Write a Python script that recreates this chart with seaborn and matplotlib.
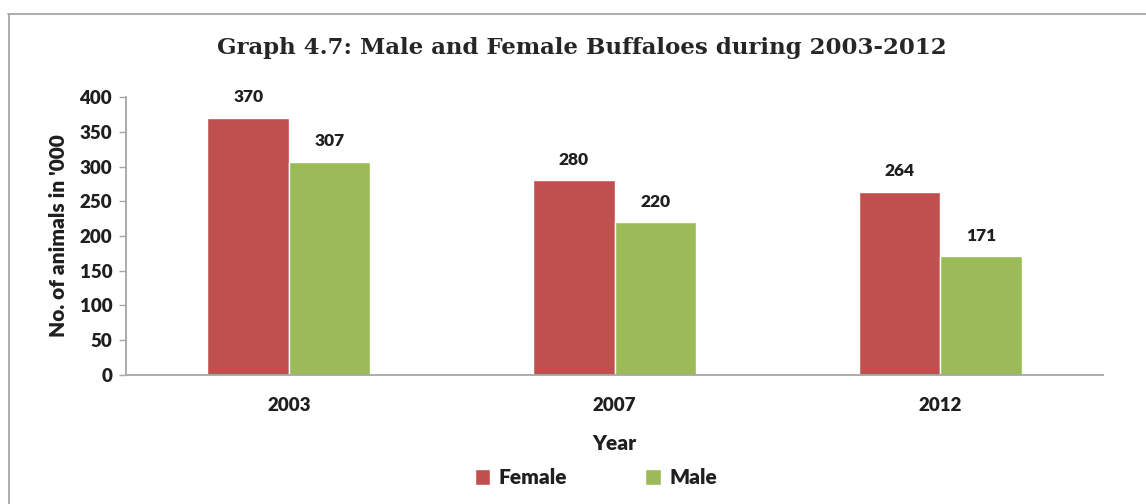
import matplotlib
matplotlib.use("Agg")
import matplotlib.pyplot as plt
import seaborn as sns
import pandas as pd
from matplotlib.lines import Line2D

years = ["2003", "2007", "2012"]
female = [370, 280, 264]
male = [307, 220, 171]
series_names = ["Female", "Male"]
yticks = [0, 50, 100, 150, 200, 250, 300, 350, 400]

df = pd.DataFrame({
    "Year": years * 2,
    "Sex": [series_names[0]] * len(years) + [series_names[1]] * len(years),
    "Value": female + male,
})

sns.set_theme(style="white")
plt.rcParams['font.family'] = ['Lato', 'DejaVu Sans']
W = "heavy"
TXT = "#1f1f1f"

fig = plt.figure(figsize=(11.46, 5.04), dpi=100)
ax = fig.add_axes([0.110, 0.256, 0.8525, 0.5515])

palette = {"Female": "#C0504D", "Male": "#9BBB59"}
sns.barplot(data=df, x="Year", y="Value", hue="Sex", palette=palette,
            width=0.5, ax=ax, saturation=1, legend=True)

for cont in ax.containers:
    ax.bar_label(cont, fmt="%d", padding=9, fontsize=12.5, fontweight=W, color=TXT)

ax.set_xlim(-0.5, 2.5)
ax.set_ylim(0, 400)
ax.set_yticks(yticks)
ax.set_yticklabels([str(t) for t in yticks], fontsize=13.5, fontweight=W, color=TXT)
ax.tick_params(axis="y", which="both", left=True, length=5, width=1, color="#A6A6A6", pad=5)
ax.tick_params(axis="x", bottom=False, pad=10)
for lbl in ax.get_xticklabels():
    lbl.set_fontsize(13.5)
    lbl.set_fontweight(W)
    lbl.set_color(TXT)

for s in ["top", "right"]:
    ax.spines[s].set_visible(False)
for s in ["left", "bottom"]:
    ax.spines[s].set_color("#A6A6A6")
    ax.spines[s].set_linewidth(1.3)

ax.set_xlabel("Year", fontsize=15, fontweight=W, color=TXT, labelpad=14)
ax.set_ylabel("No. of animals in '000", fontsize=15, fontweight=W, color=TXT, labelpad=8)

fig.text(0.508, 0.905, "Graph 4.7: Male and Female Buffaloes during 2003-2012",
         ha="center", va="center", fontsize=16.5, fontweight="bold",
         family=["DejaVu Serif"], color="#262626")

leg = ax.legend(loc="center", bbox_to_anchor=(0.481, -0.37), ncol=2, frameon=False,
                fontsize=15, handlelength=0.75, handleheight=0.75, columnspacing=3.75,
                handletextpad=0.4, title=None)
for t in leg.get_texts():
    t.set_fontweight(W)
    t.set_color(TXT)

fig.add_artist(Line2D([8/1146, 1.0], [1 - 14/504, 1 - 14/504], transform=fig.transFigure,
                      color="#A6A6A6", lw=1.3))
fig.add_artist(Line2D([8.5/1146, 8.5/1146], [0, 1 - 14/504], transform=fig.transFigure,
                      color="#A6A6A6", lw=1.3))

fig.savefig("out.png", dpi=100, facecolor="white")
